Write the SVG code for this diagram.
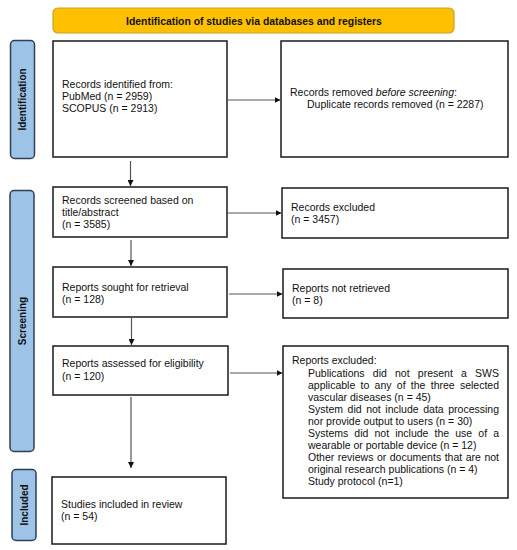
<svg xmlns="http://www.w3.org/2000/svg" width="517" height="550" viewBox="0 0 517 550">
<style>
.box{fill:#fff;stroke:#1a1a1a;stroke-width:1.5}
.side{fill:#9DC3E6;stroke:#2F3F55;stroke-width:1.5}
.t{font-family:"Liberation Sans",Arial,sans-serif;font-size:10.5px;fill:#111}
.lb{font-family:"Liberation Sans",Arial,sans-serif;font-size:10px;font-weight:bold;fill:#111}
.c{stroke:#555;stroke-width:1.2;fill:none}
</style>
<defs>
<marker id="ah" viewBox="0 0 10 10" refX="10" refY="5" markerWidth="6" markerHeight="6" markerUnits="userSpaceOnUse" orient="auto">
<path d="M0,0 L10,5 L0,10 z" fill="#111"/>
</marker>
</defs>
<rect width="517" height="550" fill="#fff"/>
<g id="banner">
<rect x="53" y="8" width="401" height="25" rx="5" fill="#FFC000" stroke="#C9A227" stroke-width="1.2"/>
<text class="lb" x="254" y="24.5" text-anchor="middle" style="font-size:10.4px">Identification of studies via databases and registers</text>
</g>
<g id="lbl-identification">
<rect class="side" x="10.5" y="40.5" width="24" height="118" rx="4"/>
<text class="lb" transform="translate(26,99.5) rotate(-90)" text-anchor="middle">Identification</text>
</g>
<g id="lbl-screening">
<rect class="side" x="10" y="190.5" width="24" height="261" rx="4"/>
<text class="lb" transform="translate(25.5,321) rotate(-90)" text-anchor="middle">Screening</text>
</g>
<g id="lbl-included">
<rect class="side" x="12" y="469.5" width="24" height="71" rx="4"/>
<text class="lb" transform="translate(27.5,505) rotate(-90)" text-anchor="middle">Included</text>
</g>
<g id="n-identified">
<rect class="box" x="53" y="41" width="174" height="116"/>
<text class="t" x="62" y="88">Records identified from:</text>
<text class="t" x="62" y="100">PubMed (n = 2959)</text>
<text class="t" x="62" y="112">SCOPUS (n = 2913)</text>
</g>
<g id="n-removed">
<rect class="box" x="281" y="41" width="227" height="116"/>
<text class="t" x="290" y="96">Records removed <tspan font-style="italic">before screening</tspan>:</text>
<text class="t" x="307" y="108">Duplicate records removed (n = 2287)</text>
</g>
<g id="n-screened">
<rect class="box" x="53" y="187" width="174" height="50"/>
<text class="t" x="62" y="204">Records screened based on</text>
<text class="t" x="62" y="216">title/abstract</text>
<text class="t" x="62" y="228">(n = 3585)</text>
</g>
<g id="n-excluded">
<rect class="box" x="282" y="188" width="226" height="50"/>
<text class="t" x="291" y="211">Records excluded</text>
<text class="t" x="291" y="223">(n = 3457)</text>
</g>
<g id="n-sought">
<rect class="box" x="53" y="267" width="174" height="50"/>
<text class="t" x="62" y="291">Reports sought for retrieval</text>
<text class="t" x="62" y="303">(n = 128)</text>
</g>
<g id="n-notretrieved">
<rect class="box" x="283" y="269" width="225" height="49"/>
<text class="t" x="292" y="292">Reports not retrieved</text>
<text class="t" x="292" y="304">(n = 8)</text>
</g>
<g id="n-assessed">
<rect class="box" x="53" y="346" width="175" height="49"/>
<text class="t" x="62" y="367">Reports assessed for eligibility</text>
<text class="t" x="62" y="380">(n = 120)</text>
</g>
<g id="n-reportsexcluded">
<rect class="box" x="283" y="346" width="225" height="152"/>
<text class="t" x="292" y="364">Reports excluded:</text>
<text class="t" x="308" y="377" word-spacing="5.28">Publications did not present a SWS</text>
<text class="t" x="308" y="389" word-spacing="2.36">applicable to any of the three selected</text>
<text class="t" x="308" y="401">vascular diseases (n = 45)</text>
<text class="t" x="308" y="413" word-spacing="1.66">System did not include data processing</text>
<text class="t" x="308" y="425">nor provide output to users (n = 30)</text>
<text class="t" x="308" y="437" word-spacing="3.19">Systems did not include the use of a</text>
<text class="t" x="308" y="449">wearable or portable device (n = 12)</text>
<text class="t" x="308" y="461" word-spacing="0.61">Other reviews or documents that are not</text>
<text class="t" x="308" y="473">original research publications (n = 4)</text>
<text class="t" x="308" y="485">Study protocol (n=1)</text>
</g>
<g id="n-included">
<rect class="box" x="52" y="477" width="174" height="67"/>
<text class="t" x="61" y="508">Studies included in review</text>
<text class="t" x="61" y="520">(n = 54)</text>
</g>
<g id="connectors">
<line class="c" x1="228" y1="100" x2="280.5" y2="100" marker-end="url(#ah)"/>
<line class="c" x1="130.5" y1="161" x2="130.5" y2="186" marker-end="url(#ah)"/>
<line class="c" x1="228" y1="213" x2="281.5" y2="213" marker-end="url(#ah)"/>
<line class="c" x1="131" y1="240" x2="131" y2="266" marker-end="url(#ah)"/>
<line class="c" x1="229" y1="294" x2="282.5" y2="294" marker-end="url(#ah)"/>
<line class="c" x1="131.5" y1="318" x2="131.5" y2="345" marker-end="url(#ah)"/>
<line class="c" x1="230" y1="373" x2="282.5" y2="373" marker-end="url(#ah)"/>
<line class="c" x1="131" y1="397" x2="131" y2="468" marker-end="url(#ah)"/>
</g>
</svg>
